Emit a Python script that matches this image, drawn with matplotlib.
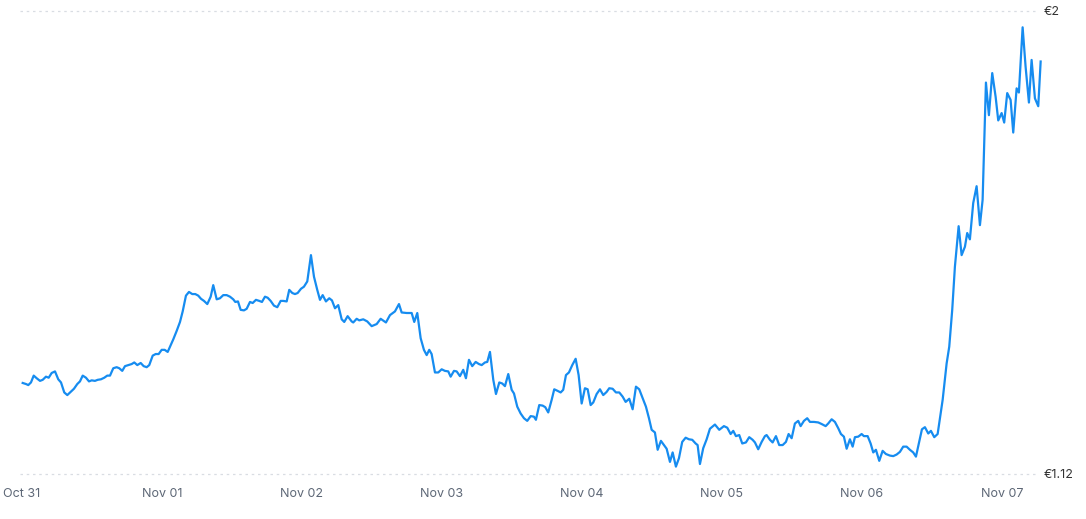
import matplotlib
matplotlib.use("Agg")
import matplotlib.pyplot as plt

# Hours since Oct 31 00:00
hours = [0.12, 0.69, 1.08, 1.54, 2.01, 2.52, 3.09, 3.55, 4.11, 4.58, 5.09, 5.66, 6.22, 6.69, 7.25, 7.77,
         8.35, 8.91, 9.48, 9.94, 10.41, 10.97, 11.49, 11.95, 12.51, 12.98, 13.54, 14.11, 14.62, 15.09, 15.65,
         16.23, 16.68, 17.19, 17.66, 18.22, 18.81, 19.25, 19.77, 20.35, 20.86, 21.38, 21.82, 22.41, 22.92,
         23.43, 23.95, 24.46, 24.98, 25.49, 25.94, 26.52, 27.09, 27.55, 28.11, 28.63, 29.19, 29.71, 30.22,
         30.69, 31.20, 31.77, 32.35, 32.79, 33.38, 33.94, 34.51, 35.09, 35.66, 36.22, 36.57, 37.03, 37.49,
         38.06, 38.52, 39.09, 39.55, 40.11, 40.68, 41.14, 41.66, 42.12, 42.63, 43.20, 43.77, 44.35, 44.79,
         45.38, 45.82, 46.34, 46.80, 47.26, 47.83, 48.34, 48.91, 49.54, 50.06, 50.62, 51.09, 51.55, 52.11,
         52.68, 53.14, 53.66, 54.22, 54.81, 55.25, 55.83, 56.52, 56.79, 57.38, 57.82,
         58.51, 59.19, 59.95, 60.81, 61.49, 62.40, 63.09, 63.94, 64.63, 65.09, 65.95, 66.81, 67.25, 67.77,
         68.35, 68.91, 69.38, 69.82, 70.23, 70.80, 71.37, 71.95, 72.51, 73.08, 73.49, 74.06, 74.52, 75.09,
         75.65, 76.11, 76.63, 77.19, 77.78, 78.34, 78.81, 79.37, 79.77, 80.23, 80.80, 81.26, 81.83, 82.34,
         82.80, 83.37, 83.95, 84.35, 84.91, 85.49, 86.06, 86.62, 87.21, 87.77, 88.11, 88.68, 89.26, 89.71,
         90.22, 90.81, 91.25, 91.83, 92.35, 92.79, 93.26, 93.77, 94.34, 94.92, 95.43, 95.95, 96.51, 96.98,
         97.49, 97.94, 98.52, 99.09, 99.65, 100.23, 100.68, 101.26, 101.83, 102.40, 102.98, 103.49, 104.11,
         104.69, 105.26, 105.82, 106.41, 106.97, 107.49, 107.95, 108.51, 108.98, 109.54, 110.06, 110.52,
         111.09, 111.55, 112.11, 112.63, 113.19, 113.78, 114.34, 114.91, 115.49, 115.83, 116.23, 116.79,
         117.38, 117.94, 118.80, 119.54,
         120.34, 120.91, 121.49, 121.94, 122.40, 122.97, 123.48, 124.11, 124.68, 125.26, 125.66, 126.22,
         126.81, 127.37, 127.66, 128.23, 128.69, 129.26, 129.82, 130.41, 130.97, 131.43, 131.95, 132.51,
         133.08, 133.49, 134.06, 134.62, 135.09, 135.77, 136.51, 137.09, 137.78, 138.22, 138.81, 139.37,
         139.94, 140.40, 140.91, 141.38, 141.94, 142.41, 142.80, 143.37, 143.95, 144.34, 144.98, 145.49,
         145.94, 146.40, 146.97, 147.55, 148.11, 148.80, 149.37, 149.95, 150.51, 151.08, 151.66, 152.23,
         152.79, 153.26, 153.82, 154.29, 154.80, 155.37, 155.83, 156.40, 156.98, 157.84, 158.52, 158.97,
         159.48, 159.94, 160.58, 161.09, 161.66, 162.05, 162.51, 163.08, 163.66, 164.23, 164.69, 165.26,
         165.77, 166.34, 166.92, 167.37, 167.95, 168.39, 168.91, 169.49, 169.94, 170.52, 170.91, 171.55,
         172.06, 172.63, 173.09, 173.66, 174.23, 174.64]

price_eur = [1.293, 1.291, 1.289, 1.294, 1.307, 1.302, 1.297, 1.299, 1.305, 1.303, 1.312, 1.315, 1.300, 1.294,
             1.275, 1.270, 1.276, 1.282, 1.291, 1.296, 1.307, 1.303, 1.296, 1.298, 1.297, 1.299, 1.300, 1.303,
             1.307, 1.307, 1.321, 1.323, 1.321, 1.316, 1.325, 1.327, 1.329, 1.332, 1.327, 1.331, 1.325, 1.323,
             1.327, 1.345, 1.348, 1.348, 1.356, 1.356, 1.352, 1.365, 1.376, 1.392, 1.409, 1.429, 1.459, 1.466,
             1.462, 1.462, 1.459, 1.453, 1.449, 1.443, 1.457, 1.479, 1.452, 1.454, 1.460, 1.460, 1.457, 1.452,
             1.447, 1.448, 1.432, 1.431, 1.434, 1.447, 1.445, 1.451, 1.449, 1.447, 1.457, 1.455, 1.449, 1.440,
             1.437, 1.449, 1.449, 1.448, 1.470, 1.464, 1.462, 1.464, 1.472, 1.476, 1.486, 1.536, 1.495, 1.470,
             1.451, 1.460, 1.448, 1.454, 1.450, 1.435, 1.441, 1.414, 1.409, 1.420, 1.410, 1.408, 1.415, 1.412,
             1.414, 1.410, 1.401, 1.405, 1.415, 1.408, 1.422, 1.429, 1.443, 1.427, 1.426, 1.426, 1.409, 1.426,
             1.378, 1.356, 1.346, 1.356, 1.348, 1.313, 1.313, 1.319, 1.316, 1.315, 1.305, 1.316, 1.315, 1.306,
             1.318, 1.302, 1.337, 1.325, 1.333, 1.329, 1.327, 1.332, 1.333, 1.352, 1.299, 1.272, 1.294, 1.292,
             1.287, 1.310, 1.280, 1.273, 1.248, 1.235, 1.226, 1.221, 1.230, 1.229, 1.223, 1.251, 1.250, 1.247,
             1.237, 1.261, 1.281, 1.278, 1.275, 1.280, 1.308, 1.313, 1.327, 1.339, 1.308, 1.254, 1.283, 1.281,
             1.251, 1.256, 1.272, 1.281, 1.270, 1.276, 1.283, 1.282, 1.275, 1.275, 1.267, 1.257, 1.263, 1.243,
             1.286, 1.281, 1.264, 1.248, 1.226, 1.204, 1.199, 1.166, 1.183, 1.175, 1.168, 1.143, 1.161, 1.134,
             1.150, 1.181, 1.189, 1.186, 1.185, 1.178, 1.175, 1.139, 1.169, 1.186, 1.206, 1.214, 1.204,
             1.211, 1.208, 1.196, 1.202, 1.192, 1.194, 1.178, 1.180, 1.190, 1.185, 1.180, 1.167, 1.181, 1.192,
             1.194, 1.185, 1.180, 1.192, 1.175, 1.175, 1.181, 1.196, 1.188, 1.216, 1.221, 1.211, 1.221, 1.226,
             1.219, 1.219, 1.218, 1.215, 1.211, 1.216, 1.224, 1.219, 1.207, 1.196, 1.191, 1.168, 1.186, 1.172,
             1.190, 1.191, 1.196, 1.192, 1.192, 1.178, 1.161, 1.166, 1.145, 1.164, 1.158, 1.155, 1.154, 1.157,
             1.162, 1.172, 1.172, 1.166, 1.161, 1.153, 1.181, 1.205, 1.209, 1.197, 1.202, 1.190, 1.196, 1.261,
             1.330, 1.362, 1.432, 1.514, 1.591, 1.536, 1.552, 1.578, 1.566, 1.635, 1.667, 1.593, 1.641, 1.864,
             1.802, 1.882, 1.837, 1.792, 1.806, 1.788, 1.844, 1.831, 1.769, 1.853, 1.845, 1.969, 1.894, 1.826,
             1.907, 1.834, 1.819, 1.904]

tick_hours = [0, 24, 48, 72, 96, 120, 144, 168]
tick_labels = ["Oct 31", "Nov 01", "Nov 02", "Nov 03", "Nov 04", "Nov 05", "Nov 06", "Nov 07"]
y_ticks = [1.12, 2.0]
y_tick_labels = ["€1.12", "€2"]

plt.rcParams['font.family'] = ['Inter', 'DejaVu Sans']

W, H = 1086, 519
fig = plt.figure(figsize=(W / 100, H / 100), dpi=100)
left_px, right_px, top_px, bottom_px = 20, 1041, 11, 474
ax = fig.add_axes([left_px / W, 1 - bottom_px / H, (right_px - left_px) / W, (bottom_px - top_px) / H])

ax.plot(hours, price_eur, color="#168cf0", lw=1.6, solid_joinstyle="round", clip_on=False, zorder=3)

for yv in y_ticks:
    ax.plot([-0.34, 174.0], [yv, yv], color="#d9dde3", lw=0.9, linestyle=(0, (2, 3)),
            zorder=1, clip_on=False)

ax.set_xlim(-0.34, 174.7)
ax.set_ylim(1.12, 2.0)

ax.set_xticks(tick_hours)
ax.set_xticklabels(tick_labels)
ax.yaxis.tick_right()
ax.set_yticks(y_ticks)
ax.set_yticklabels(y_tick_labels)

ax.tick_params(axis="x", length=0, pad=10, labelsize=9, labelcolor="#5d6776")
ax.tick_params(axis="y", length=0, pad=2, labelsize=9, labelcolor="#333333")

for s in ax.spines.values():
    s.set_visible(False)

fig.savefig("out.png", dpi=100, facecolor="white")
